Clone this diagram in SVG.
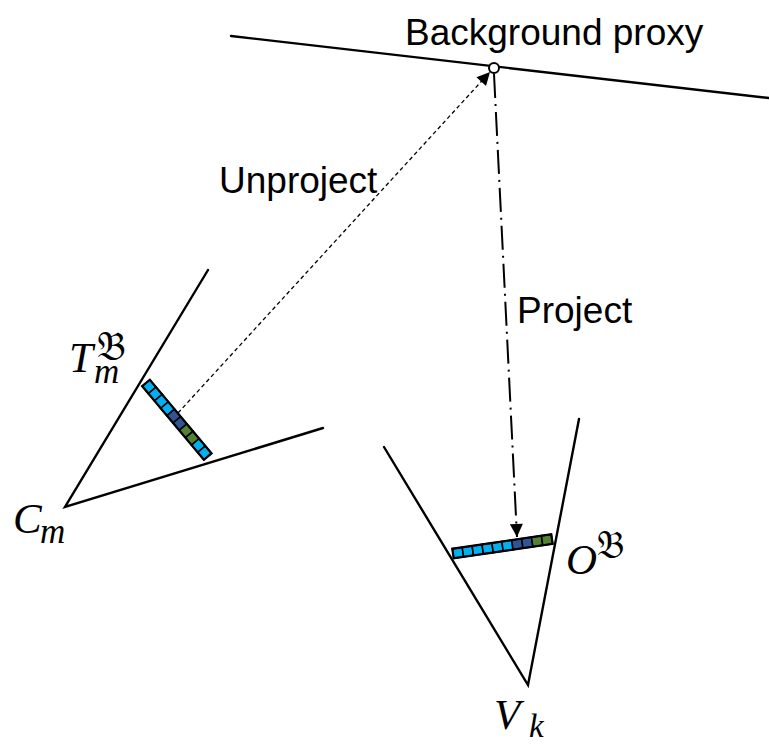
<svg xmlns="http://www.w3.org/2000/svg" width="769" height="744" viewBox="0 0 769 744">
<defs>
<style>
.ln{stroke:#000;stroke-width:2.4;fill:none;stroke-linecap:round}
.lbl{font-family:"Liberation Sans",Arial,sans-serif;font-size:37px;fill:#000}
.math{font-family:"Liberation Serif","DejaVu Serif",serif;font-style:italic;fill:#000}
.frak{font-family:"DejaVu Serif","DejaVu Sans","Noto Sans",serif;font-style:normal}
.c1{fill:#00B0F0;stroke:#000;stroke-width:1.6}
.c2{fill:#2F5597;stroke:#000;stroke-width:1.6}
.c3{fill:#548235;stroke:#000;stroke-width:1.6}
</style>
<marker id="ah" viewBox="0 0 10 10" refX="10" refY="5" markerUnits="userSpaceOnUse" markerWidth="14" markerHeight="13" orient="auto">
<path d="M0,0 L10,5 L0,10 z" fill="#000"/>
</marker>
</defs>

<g id="background-proxy">
<line class="ln" x1="231" y1="36" x2="769" y2="98"/>
<circle cx="494" cy="68" r="5" fill="#fff" stroke="#000" stroke-width="2"/>
<text class="lbl" x="405" y="45">Background proxy</text>
</g>

<g id="camera-m">
<polyline class="ln" points="208,270 65,507 323,428" stroke-linejoin="miter"/>
<g transform="translate(146,383) rotate(50)">
<rect class="c1" x="0" y="-5" width="9.6" height="10"/>
<rect class="c1" x="9.6" y="-5" width="9.6" height="10"/>
<rect class="c1" x="19.2" y="-5" width="9.6" height="10"/>
<rect class="c1" x="28.8" y="-5" width="9.6" height="10"/>
<rect class="c2" x="38.4" y="-5" width="9.6" height="10"/>
<rect class="c2" x="48" y="-5" width="9.6" height="10"/>
<rect class="c3" x="57.6" y="-5" width="9.6" height="10"/>
<rect class="c3" x="67.2" y="-5" width="9.6" height="10"/>
<rect class="c1" x="76.8" y="-5" width="9.6" height="10"/>
<rect class="c1" x="86.4" y="-5" width="9.6" height="10"/>
<rect x="0" y="-5" width="96" height="10" fill="none" stroke="#000" stroke-width="2.2"/>
</g>
<text class="math" x="69" y="372" font-size="43">T<tspan font-size="35" x="94" y="383">m</tspan><tspan class="frak" font-size="40" x="97" y="360">𝔅</tspan></text>
<text class="math" x="13" y="533" font-size="43">C<tspan font-size="35" x="40" y="543">m</tspan></text>
</g>

<g id="camera-k">
<polyline class="ln" points="384,447 528,685 579,419" stroke-linejoin="miter"/>
<g transform="translate(453,553.5) rotate(-8.3)">
<rect class="c1" x="0" y="-4.8" width="10" height="9.6"/>
<rect class="c1" x="10" y="-4.8" width="10" height="9.6"/>
<rect class="c1" x="20" y="-4.8" width="10" height="9.6"/>
<rect class="c1" x="30" y="-4.8" width="10" height="9.6"/>
<rect class="c1" x="40" y="-4.8" width="10" height="9.6"/>
<rect class="c1" x="50" y="-4.8" width="10" height="9.6"/>
<rect class="c2" x="60" y="-4.8" width="10" height="9.6"/>
<rect class="c2" x="70" y="-4.8" width="10" height="9.6"/>
<rect class="c3" x="80" y="-4.8" width="10" height="9.6"/>
<rect class="c3" x="90" y="-4.8" width="10" height="9.6"/>
<rect x="0" y="-4.8" width="100" height="9.6" fill="none" stroke="#000" stroke-width="2.2"/>
</g>
<text class="math" x="566" y="574" font-size="43">O<tspan class="frak" font-size="38" x="597" y="558">𝔅</tspan></text>
<text class="math" x="494" y="729" font-size="43">V<tspan font-size="33" x="529" y="737">k</tspan></text>
</g>

<g id="connectors">
<line x1="178" y1="413" x2="490" y2="72" stroke="#000" stroke-width="1.3" stroke-dasharray="4 3" marker-end="url(#ah)"/>
<text class="lbl" x="219" y="193">Unproject</text>
<line x1="494" y1="74" x2="517" y2="537" stroke="#000" stroke-width="2" stroke-dasharray="24 6 2 6" marker-end="url(#ah)"/>
<text class="lbl" x="517" y="323">Project</text>
</g>
</svg>
